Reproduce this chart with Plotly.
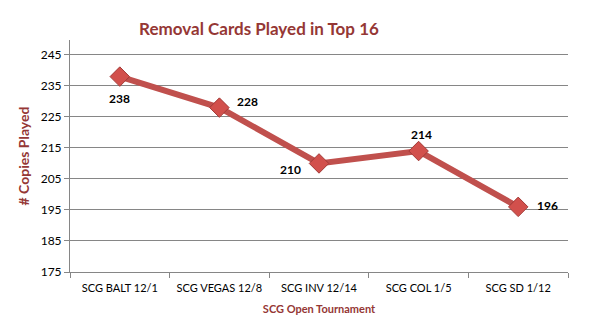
import plotly.graph_objects as go

# Tournament events and removal-card counts in the top 16 decks
events = ["SCG BALT 12/1", "SCG VEGAS 12/8", "SCG INV 12/14", "SCG COL 1/5", "SCG SD 1/12"]
copies = [238, 228, 210, 214, 196]
y_ticks = [175, 185, 195, 205, 215, 225, 235, 245]

# label offsets (pixels) for each value label
label_dx = [0, 28, -29, 3, 29]
label_dy = [-22, 6, -6, 17, 1]

TITLE_RED = "#953735"
LINE_RED = "#C0504D"
FONT = "Lato, 'Open Sans', sans-serif"

fig = go.Figure()
fig.add_trace(go.Scatter(
    x=events, y=copies, mode="lines+markers",
    line=dict(color=LINE_RED, width=6),
    marker=dict(symbol="diamond", size=15, color="#D2504C",
                line=dict(color="#A33A37", width=1)),
    hoverinfo="x+y", showlegend=False,
))

for ev, v, dx, dy in zip(events, copies, label_dx, label_dy):
    fig.add_annotation(x=ev, y=v, text=f"<b>{v}</b>", showarrow=False,
                       xshift=dx, yshift=dy,
                       font=dict(family=FONT, size=12, color="#000000"))

fig.update_layout(
    width=599, height=331,
    margin=dict(l=70, r=31, t=40, b=59),
    paper_bgcolor="white", plot_bgcolor="white",
    title=dict(text="<b>Removal Cards Played in Top 16</b>",
               x=259 / 599, xanchor="center", y=1 - 29 / 331, yanchor="middle",
               font=dict(family=FONT, size=17, color=TITLE_RED)),
    font=dict(family=FONT, size=11, color="#000000"),
)

fig.update_xaxes(
    type="category", range=[-0.5, 4.5],
    showline=True, linecolor="#868686", linewidth=1,
    ticks="outside", tickson="boundaries", ticklen=5, tickcolor="#868686",
    ticklabelstandoff=6,
    showgrid=False, tickfont=dict(family=FONT, size=11, color="#000000"),
    title=dict(text="<b>SCG Open Tournament</b>", standoff=12,
               font=dict(family=FONT, size=11, color=TITLE_RED)),
)
fig.update_yaxes(
    range=[175, 249.8], tickvals=y_ticks,
    showline=True, linecolor="#868686", linewidth=1,
    ticks="outside", ticklen=5, tickcolor="#868686",
    showgrid=True, gridcolor="#868686", gridwidth=1,
    zeroline=False, tickfont=dict(family=FONT, size=12, color="#000000"),
    title=dict(text="<b># Copies Played</b>", standoff=7,
               font=dict(family=FONT, size=14, color=TITLE_RED)),
)

fig.write_html("out.html")
